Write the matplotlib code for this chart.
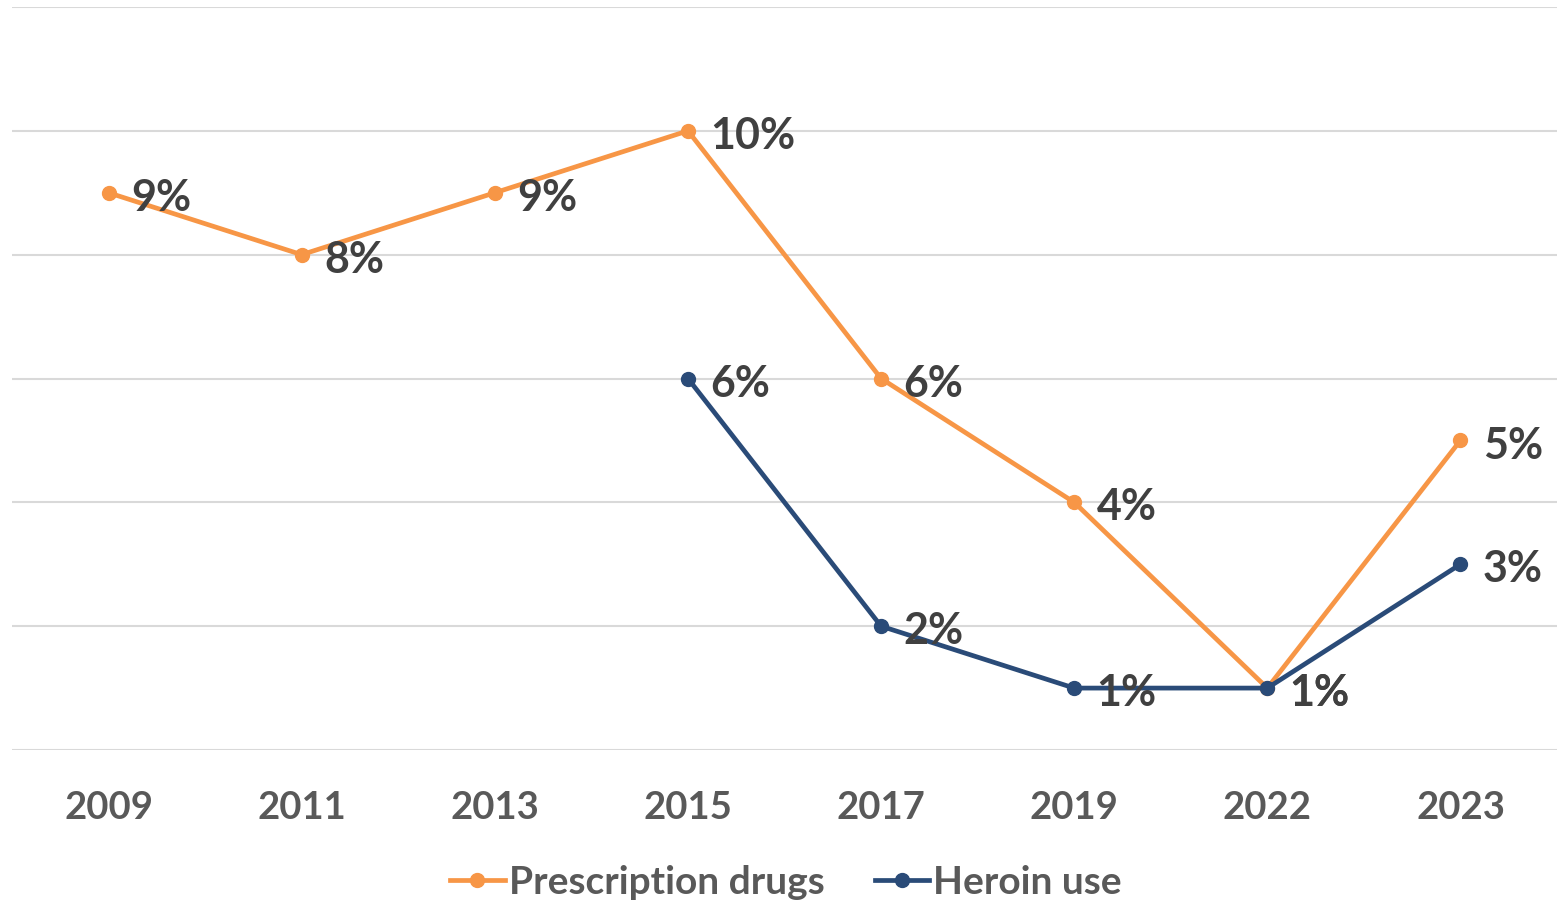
import matplotlib
matplotlib.use("Agg")
import matplotlib.pyplot as plt
from matplotlib.lines import Line2D

years = ["2009", "2011", "2013", "2015", "2017", "2019", "2022", "2023"]
prescription = [9, 8, 9, 10, 6, 4, 1, 5]
heroin = [None, None, None, 6, 2, 1, 1, 3]

orange = "#F79646"
navy = "#2A4B78"
label_col = "#404040"
tick_col = "#595959"
font = "Lato"

fig = plt.figure(figsize=(15.57, 9.04), dpi=100)
ax = fig.add_axes([12/1557, 1-751/904, 1-12/1557, (751-8)/904])

x = list(range(len(years)))
hx = [i for i, v in zip(x, heroin) if v is not None]
hy = [v for v in heroin if v is not None]

ax.plot(x, prescription, color=orange, lw=3.4, marker="o", ms=10, zorder=3)
ax.plot(hx, hy, color=navy, lw=3.4, marker="o", ms=10, zorder=4)

for xi, v in zip(x, prescription):
    ax.annotate(f"{v}%", (xi, v), xytext=(16, -3), textcoords="offset points",
                ha="left", va="center", fontsize=31, fontweight="bold",
                color=label_col, family=font, zorder=5)
for xi, v in zip(hx, hy):
    ax.annotate(f"{v}%", (xi, v), xytext=(16, -3), textcoords="offset points",
                ha="left", va="center", fontsize=31, fontweight="bold",
                color=label_col, family=font, zorder=5)

ax.set_xlim(-0.5, len(years) - 0.5)
ax.set_ylim(0, 12)
ax.set_yticks(range(0, 13, 2))
ax.yaxis.grid(True, color="#D9D9D9", lw=1.5)
ax.set_axisbelow(True)
ax.tick_params(axis="y", left=False, labelleft=False)
ax.tick_params(axis="x", bottom=False, pad=25)
ax.set_xticks(x)
ax.set_xticklabels(years, fontsize=27.5, fontweight="bold", color=tick_col, family=font)
for s in ax.spines.values():
    s.set_visible(False)

handles = [Line2D([0], [0], color=orange, lw=3.4, marker="o", ms=10),
           Line2D([0], [0], color=navy, lw=3.4, marker="o", ms=10)]
leg = fig.legend(handles, ["Prescription drugs", "Heroin use"], loc="center",
                 bbox_to_anchor=(786/1557, 1-883/904), ncol=2, frameon=False,
                 handlelength=1.4, handletextpad=0.1, columnspacing=1.3,
                 prop={"family": font, "weight": "bold", "size": 28})
for t in leg.get_texts():
    t.set_color(tick_col)

fig.savefig("out.png", dpi=100)
